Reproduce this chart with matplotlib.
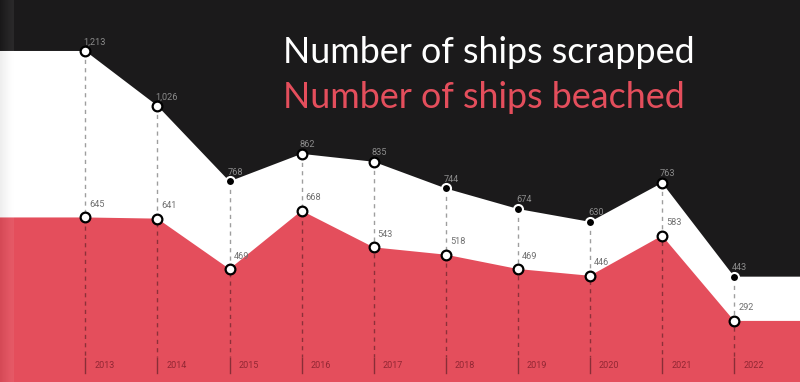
import matplotlib.pyplot as plt
import numpy as np

years = [2013, 2014, 2015, 2016, 2017, 2018, 2019, 2020, 2021, 2022]
scrapped = [1213, 1026, 768, 862, 835, 744, 674, 630, 763, 443]
beached = [645, 641, 469, 668, 543, 518, 469, 446, 583, 292]
scrapped_labels = ["1,213", "1,026", "768", "862", "835", "744", "674", "630", "763", "443"]
beached_labels = ["645", "641", "469", "668", "543", "518", "469", "446", "583", "292"]
# markers drawn dark (black dot, white ring) in the original
dark_marker = [False, False, True, False, False, True, True, True, False, True]

BG = "#1b1a1b"
RED = "#e44e5c"

W, H = 800, 382
fig = plt.figure(figsize=(W / 100, H / 100), dpi=100)
fig.patch.set_facecolor(BG)
ax = fig.add_axes([0, 0, 1, 1])
ax.set_facecolor(BG)

# pixel mapping
px_per_year = 72.1
x0_px = 85.3
xmin = years[0] - x0_px / px_per_year
xmax = years[0] + (W - x0_px) / px_per_year
px_per_unit = 0.2931
zero_px = 406.5
ymin = (zero_px - H) / px_per_unit
ymax = zero_px / px_per_unit
ax.set_xlim(xmin, xmax)
ax.set_ylim(ymin, ymax)
ax.axis("off")

def pix_to_val(py):
    return (zero_px - py) / px_per_unit

xs = [xmin] + years + [xmax]
ax.fill_between(xs, [scrapped[0]] + scrapped + [scrapped[-1]], ymin,
                color="white", lw=0, zorder=1)
ax.fill_between(xs, [beached[0]] + beached + [beached[-1]], ymin,
                color=RED, lw=0, zorder=2)

# subtle shading on the left edge
grad = np.linspace(1, 0, 64).reshape(1, -1)
ax.imshow(grad, extent=[xmin, xmin + 14 / px_per_year, ymin, ymax], aspect="auto",
          cmap="Greys", alpha=0.07, vmin=0, vmax=1, zorder=2.5)

# dashed guides and year ticks
dash_end = pix_to_val(357)
for yr, s in zip(years, scrapped):
    ax.plot([yr, yr], [s, dash_end], color="black", alpha=0.38, lw=1,
            ls=(0, (3, 3)), zorder=3)
    ax.plot([yr, yr], [pix_to_val(358), pix_to_val(373)], color="black",
            alpha=0.4, lw=1, zorder=3)
    ax.text(yr + 9 / px_per_year, pix_to_val(366), str(yr), fontsize=6.5,
            family="Roboto", color="#5a0d18", alpha=0.6, va="center", ha="left",
            zorder=4)

# markers
for yr, s, b, dark in zip(years, scrapped, beached, dark_marker):
    if dark:
        ax.plot(yr, s, "o", ms=6.5, mfc="black", mec="white", mew=1.5, zorder=5)
    else:
        ax.plot(yr, s, "o", ms=7, mfc="white", mec="black", mew=1.6, zorder=5)
    ax.plot(yr, b, "o", ms=7, mfc="white", mec="black", mew=1.6, zorder=5)

# value labels
for yr, s, b, sl, bl in zip(years, scrapped, beached, scrapped_labels, beached_labels):
    ax.annotate(sl, (yr, s), xytext=(-2 * 0.72, 9 * 0.72), textcoords="offset points",
                fontsize=6.6, family="Roboto", color="#8c8c8c", ha="left",
                va="center", zorder=6)
    ax.annotate(bl, (yr, b), xytext=(4 * 0.72, 13 * 0.72), textcoords="offset points",
                fontsize=6.6, family="Roboto", color="#707070", ha="left",
                va="center", zorder=6)

fig.text(283 / W, 1 - 63 / H, "Number of ships scrapped", color="white",
         fontsize=25.8, family="Lato", va="baseline", ha="left")
fig.text(283 / W, 1 - 108 / H, "Number of ships beached", color=RED,
         fontsize=25.8, family="Lato", va="baseline", ha="left")

fig.savefig("out.png", dpi=100, facecolor=BG)
